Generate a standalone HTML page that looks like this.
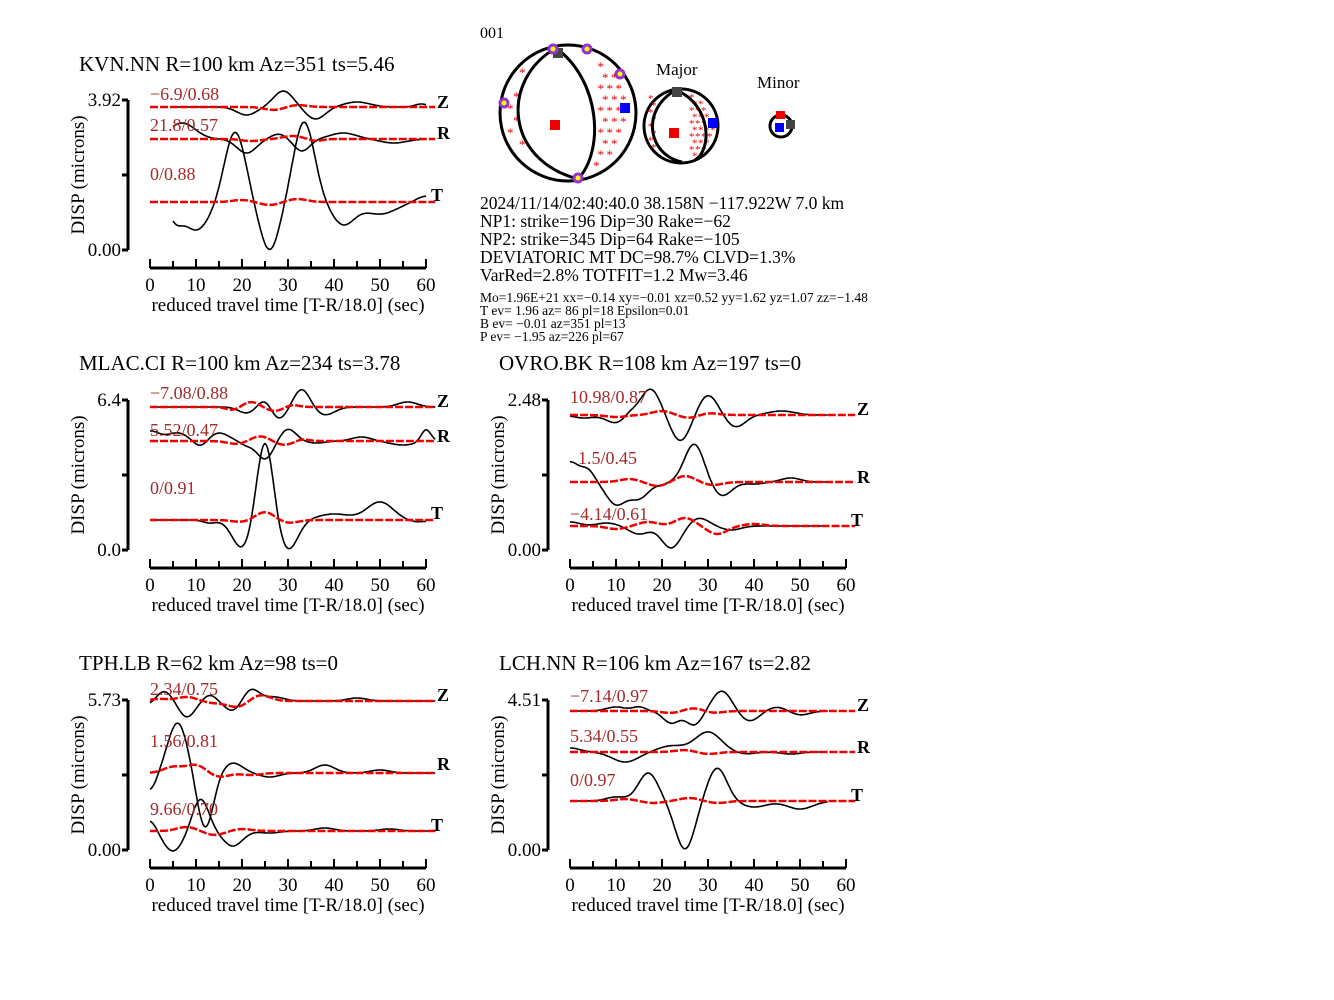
<!DOCTYPE html>
<html><head><meta charset="utf-8"><style>
html,body{margin:0;background:#fff;overflow:hidden;width:1334px;height:1000px}
svg{display:block}
text{font-family:"Liberation Serif",serif;fill:#000}
.t{font-size:21px}.tk{font-size:19px}.lab{font-size:18px;fill:#a52a2a}.c{font-size:18px;font-weight:bold}.info{font-size:17.5px}.sm{font-size:13.5px}
#stars text{fill:#e00}
</style></head><body>
<svg id="s" width="1334" height="1000" viewBox="0 0 1334 1000" xmlns="http://www.w3.org/2000/svg">
<g id="panels"></g>
<text class="t" x="79" y="71">KVN.NN R=100 km Az=351 ts=5.46</text>
<text class="t" x="79" y="370">MLAC.CI R=100 km Az=234 ts=3.78</text>
<text class="t" x="499" y="370">OVRO.BK R=108 km Az=197 ts=0</text>
<text class="t" x="79" y="670">TPH.LB R=62 km Az=98 ts=0</text>
<text class="t" x="499" y="670">LCH.NN R=106 km Az=167 ts=2.82</text>

<text class="lab" x="150" y="100">−6.9/0.68</text><text class="lab" x="150" y="131">21.8/0.57</text><text class="lab" x="150" y="180">0/0.88</text>
<text class="lab" x="150" y="399">−7.08/0.88</text><text class="lab" x="150" y="436">5.52/0.47</text><text class="lab" x="150" y="494">0/0.91</text>
<text class="lab" x="570" y="403">10.98/0.87</text><text class="lab" x="578" y="464">1.5/0.45</text><text class="lab" x="570" y="520">−4.14/0.61</text>
<text class="lab" x="150" y="695">2.34/0.75</text><text class="lab" x="150" y="747">1.56/0.81</text><text class="lab" x="150" y="815">9.66/0.70</text>
<text class="lab" x="570" y="702">−7.14/0.97</text><text class="lab" x="570" y="742">5.34/0.55</text><text class="lab" x="570" y="786">0/0.97</text>

<text class="c" x="437" y="108">Z</text><text class="c" x="437" y="139">R</text><text class="c" x="431" y="201">T</text>
<text class="c" x="437" y="407">Z</text><text class="c" x="437" y="442">R</text><text class="c" x="431" y="519">T</text>
<text class="c" x="857" y="415">Z</text><text class="c" x="857" y="483">R</text><text class="c" x="851" y="526">T</text>
<text class="c" x="437" y="701">Z</text><text class="c" x="437" y="770">R</text><text class="c" x="431" y="831">T</text>
<text class="c" x="857" y="711">Z</text><text class="c" x="857" y="753">R</text><text class="c" x="851" y="801">T</text>

<text x="480" y="38" style="font-size:16px">001</text>
<g stroke="#000" stroke-width="3" fill="none">
<circle cx="568" cy="113" r="68" fill="#fff"/>
<circle cx="681" cy="126" r="37" fill="#fff"/>
<circle cx="781" cy="126" r="11" fill="#fff"/>
</g>
<g id="stars" font-size="13" font-family="Liberation Sans"></g>
<g stroke="#000" stroke-width="3" fill="none">
<path d="M556,48 C500,80 505,160 578,179"/>
<path d="M556,48 C600,80 605,150 578,179"/>
<path d="M676,90 C640,110 648,155 682,162"/>
<path d="M676,90 C712,105 712,150 695,160"/>
</g>
<rect x="550" y="120" width="10" height="10" fill="#e00"/>
<rect x="620" y="103" width="10" height="10" fill="#00f"/>
<rect x="553" y="48" width="10" height="10" fill="#444"/>
<rect x="669" y="128" width="10" height="10" fill="#e00"/>
<rect x="708" y="118" width="10" height="10" fill="#00f"/>
<rect x="672" y="87" width="10" height="10" fill="#444"/>
<rect x="776" y="111" width="9" height="8" fill="#e00"/>
<rect x="775" y="123" width="9" height="9" fill="#00f"/>
<rect x="786" y="120" width="9" height="9" fill="#444"/>
<g fill="#ff0" stroke="#9932cc" stroke-width="3">
<circle cx="553" cy="49" r="4"/><circle cx="587" cy="49" r="4"/><circle cx="620" cy="74" r="4"/><circle cx="504" cy="103" r="4"/><circle cx="578" cy="178" r="4"/>
</g>
<text x="656" y="75" style="font-size:17px">Major</text>
<text x="757" y="88" style="font-size:17px">Minor</text>
<text class="info" x="480" y="209">2024/11/14/02:40:40.0 38.158N −117.922W 7.0 km</text>
<text class="info" x="480" y="227">NP1: strike=196 Dip=30 Rake=−62</text>
<text class="info" x="480" y="245">NP2: strike=345 Dip=64 Rake=−105</text>
<text class="info" x="480" y="263">DEVIATORIC MT DC=98.7% CLVD=1.3%</text>
<text class="info" x="480" y="281">VarRed=2.8% TOTFIT=1.2 Mw=3.46</text>
<text class="sm" x="480" y="302">Mo=1.96E+21 xx=−0.14 xy=−0.01 xz=0.52 yy=1.62 yz=1.07 zz=−1.48</text>
<text class="sm" x="480" y="315">T ev=  1.96 az= 86 pl=18 Epsilon=0.01</text>
<text class="sm" x="480" y="328">B ev= −0.01 az=351 pl=13</text>
<text class="sm" x="480" y="341">P ev= −1.95 az=226 pl=67</text>
<g id="ax"></g>
</svg>
<script>
var NS="http://www.w3.org/2000/svg";
function el(p,n,a,txt){var e=document.createElementNS(NS,n);for(var k in a)e.setAttribute(k,a[k]);if(txt!==undefined)e.textContent=txt;p.appendChild(e);return e;}
var ax=document.getElementById('ax'),pg=document.getElementById('panels');
var P=[{dx:0,dy:0,yl:['3.92','0.00']},{dx:0,dy:300,yl:['6.4','0.0']},{dx:420,dy:300,yl:['2.48','0.00']},{dx:0,dy:600,yl:['5.73','0.00']},{dx:420,dy:600,yl:['4.51','0.00']}];
P.forEach(function(p){
 var x0=150+p.dx,dy=p.dy;
 el(ax,'line',{x1:128+p.dx,y1:100+dy,x2:128+p.dx,y2:250+dy,stroke:'#000','stroke-width':3});
 [100,175,250].forEach(function(y){el(ax,'line',{x1:122+p.dx,y1:y+dy,x2:128+p.dx,y2:y+dy,stroke:'#000','stroke-width':3});});
 el(ax,'text',{x:121+p.dx,y:106+dy,'text-anchor':'end',class:'tk'},p.yl[0]);
 el(ax,'text',{x:121+p.dx,y:256+dy,'text-anchor':'end',class:'tk'},p.yl[1]);
 el(ax,'text',{x:0,y:0,class:'tk',transform:'translate('+(84+p.dx)+','+(175+dy)+') rotate(-90)','text-anchor':'middle'},'DISP (microns)');
 el(ax,'line',{x1:x0,y1:268+dy,x2:x0+276,y2:268+dy,stroke:'#000','stroke-width':3});
 for(var i=0;i<=12;i++){var x=x0+i*23;el(ax,'line',{x1:x,y1:268+dy,x2:x,y2:(i%2?261:259)+dy,stroke:'#000','stroke-width':2});}
 for(var i=0;i<=6;i++){el(ax,'text',{x:x0+i*46,y:291+dy,'text-anchor':'middle',class:'tk'},String(i*10));}
 el(ax,'text',{x:x0+138,y:311+dy,'text-anchor':'middle',class:'tk'},'reduced travel time [T-R/18.0] (sec)');
});
function tr(pi,base,t0,t1,W,col,dash){
 var p=P[pi],x0=150+p.dx,d='';
 for(var t=t0;t<=t1;t+=0.25){var y=base;W.forEach(function(w){y+=w[1]*Math.exp(-Math.pow((t-w[0])/w[2],2));});
 d+=(d?'L':'M')+(x0+t*4.6).toFixed(1)+','+y.toFixed(1);}
 el(pg,'path',{d:d,fill:'none',stroke:col,'stroke-width':dash?2.5:1.6,'stroke-dasharray':dash?'8,2':'none'});
}
var B='#000',R='#e00';
tr(0,107,5,60,[[21,8,3],[29,-16,3],[36,12,3],[45,-5,4],[59,-3,2]],B);
tr(0,139,5,60,[[7,-16,4],[21,14,3],[28,-5,2.5],[33,12,2.5],[42,-6,4],[53,4,4]],B);
tr(0,202,5,60,[[5.5,14,2],[10,28,4],[18.5,-70,3.2],[26,48,3],[33.5,-80,3.2],[42,22,3.5],[50,12,5],[60,-6,3]],B);
tr(0,107,0,62,[[27,3,3],[32,-2,3]],R,1);tr(0,139,0,62,[[22,2,3],[31,-3,3],[36,2,2]],R,1);tr(0,202,0,62,[[20,-2,3],[26,3,3],[32,-3,3]],R,1);
tr(1,407,0,62,[[21,6,2.5],[25,-8,2],[28,12,2.5],[33,-18,2.5],[38,8,3],[46,0,3],[56,-5,3]],B);
tr(1,441,0,62,[[0,-10,3],[6,-8,3],[11,6,2],[15,-8,3],[21,4,2],[25,18,2.5],[30,-12,2.5],[36,2,3],[46,-4,3],[55,4,4],[60,-12,1.5]],B);
tr(1,520,0,60,[[13,3,2],[20,28,3],[25,-80,2.5],[30,30,3],[40,-6,5],[50,-18,4],[58,2,3]],B);
tr(1,407,0,62,[[18,3,2],[22,-5,2.5],[27,4,2.5],[31,-2,2]],R,1);tr(1,441,0,62,[[19,3,3],[24,-5,3],[29,4,3],[33,-2,2]],R,1);tr(1,520,0,62,[[20,2,3],[25,-8,3],[30,3,3]],R,1);
tr(2,415,0,56,[[3,3,3],[10,8,3],[13,-4,2],[17.5,-26,3],[24,26,3],[30,-20,3],[36,12,3],[46,-4,4]],B);
tr(2,482,0,56,[[0,-20,3],[4,-10,2],[10,22,3],[15,16,3],[20,2,2],[27,-38,3],[33,14,3],[40,2,3],[48,-4,3]],B);
tr(2,526,0,56,[[0,-4,3],[8,-3,3],[15,8,3],[22,22,3],[28,-8,3],[35,4,3],[48,0,3]],B);
tr(2,415,0,62,[[10,2,3],[20,-4,3],[26,3,3],[30,-2,3]],R,1);tr(2,482,0,62,[[13,-3,3],[19,4,3],[25,-6,3],[31,3,3]],R,1);tr(2,526,0,62,[[10,3,3],[17,-4,3],[25,-8,3],[32,8,3],[40,-2,3]],R,1);
tr(3,701,0,62,[[0,4,2],[3,-10,2.5],[8,16,2.5],[13,-6,2],[18,10,2.5],[22,-12,2.5],[27,-4,3],[45,-3,3]],B);
tr(3,773,0,62,[[0,17,2],[6,-50,3],[12,55,2.5],[18,-10,3],[26,4,3],[38,-8,3],[50,-3,3]],B);
tr(3,831,0,62,[[0,-11,2],[5,20,3],[11,-32,2.5],[18,15,3],[26,2,3],[38,-3,3],[52,-2,3]],B);
tr(3,701,0,62,[[2,-2,3],[8,-4,3],[14,2,3],[19,6,3],[24,-6,3]],R,1);tr(3,773,0,62,[[5,-6,3],[10,-8,3],[15,4,3],[22,2,3]],R,1);tr(3,831,0,62,[[8,-4,3],[14,4,3],[20,-2,3]],R,1);
tr(4,711,0,56,[[10,-4,3],[15,-4,2],[22,12,2.5],[27,14,2.5],[33,-20,3],[39,10,3],[45,-4,3],[50,4,3]],B);
tr(4,752,0,56,[[0,-4,3],[12,10,4],[22,-6,4],[30,-20,4],[38,2,3],[48,2,3]],B);
tr(4,801,0,56,[[0,0,3],[10,-4,3],[17,-28,3],[25,48,3],[32,-33,3],[40,6,4],[50,8,4]],B);
tr(4,711,0,62,[[22,2,3],[27,-3,3],[31,2,3]],R,1);tr(4,752,0,62,[[25,-2,3],[30,2,3]],R,1);tr(4,801,0,62,[[12,-2,3],[18,2,3],[26,-3,3],[32,2,3]],R,1);
var st=document.getElementById('stars');
function inb(x,y,cx,cy,r){return (x-cx)*(x-cx)+(y-cy)*(y-cy)<r*r;}
for(var i=0;i<5;i++)for(var j=0;j<12;j++){var x=596+i*9+(j%2)*4.5,y=55+j*11;
 if(inb(x,y,568,113,62)&&x>592+(Math.abs(y-113)>40?-15:4)) el(st,'text',{x:x-3,y:y+5},'*');}
for(var j=0;j<11;j++){var y=60+j*12,x=510+(j%2)*6+(Math.abs(y-113)<30?0:6);if(inb(x,y,568,113,62))el(st,'text',{x:x-3,y:y+5},'*');}
for(var i=0;i<4;i++)for(var j=0;j<10;j++){var x=692+i*6+(j%2)*3,y=97+j*6.5;if(inb(x,y,681,126,33)&&x>690+(y>140?-4:0))el(st,'text',{x:x-3,y:y+4,'font-size':'11'},'*');}
for(var j=0;j<8;j++){var y=102+j*7;el(st,'text',{x:648+(j%2)*3,y:y,'font-size':'11'},'*');}
</script>
</body></html>
